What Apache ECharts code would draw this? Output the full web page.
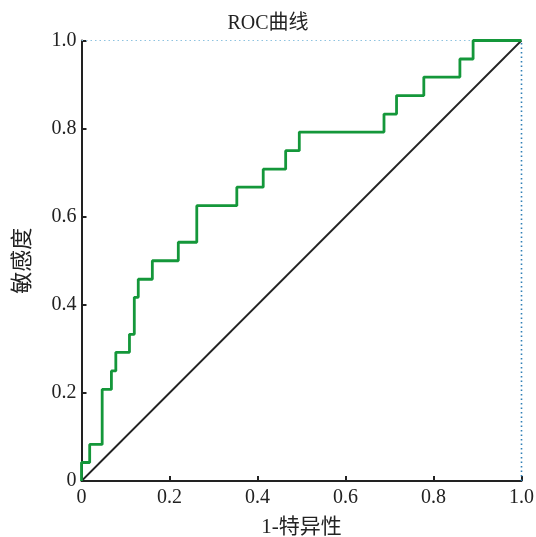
<!DOCTYPE html>
<html><head><meta charset="utf-8">
<script src="https://cdn.jsdelivr.net/npm/echarts@6/dist/echarts.min.js"></script>
<style>html,body{margin:0;padding:0;background:#fff}#c{width:536px;height:537px}</style>
</head><body><div id="c"></div>
<script>
// ROC step curve corner points (1 - specificity, sensitivity)
const fpr = [0, 0, 0.0186, 0.047, 0.068, 0.078, 0.109, 0.12, 0.129, 0.161, 0.22, 0.262, 0.353, 0.413, 0.464, 0.495, 0.6875, 0.716, 0.778, 0.86, 0.89, 1];
const tpr = [0, 0.042, 0.083, 0.208, 0.25, 0.292, 0.333, 0.417, 0.458, 0.5, 0.542, 0.625, 0.667, 0.708, 0.75, 0.792, 0.833, 0.875, 0.917, 0.958, 1, 1];
const diagX = [0, 1];
const diagY = [0, 1];
const tickValues = [0, 0.2, 0.4, 0.6, 0.8, 1.0];
const titleText = 'ROC曲线';
const xName = '1-特异性';
const yName = '敏感度';

const serif = '"Liberation Serif","DejaVu Serif","Noto Sans CJK SC",serif';
const fmt = v => v === 0 ? '0' : v.toFixed(1);
const chart = echarts.init(document.getElementById('c'));
chart.setOption({
  animation: false,
  backgroundColor: '#fff',
  title: { text: titleText, left: 'center', top: 9, textStyle: { fontFamily: serif, fontWeight: 'normal', fontSize: 20, color: '#222' } },
  grid: { left: 81.5, right: 14.5, top: 40.5, bottom: 56, containLabel: false, outerBoundsMode: 'none' },
  xAxis: {
    type: 'value', min: 0, max: 1, interval: 0.2,
    name: xName, nameLocation: 'middle', nameGap: 36,
    nameTextStyle: { fontFamily: serif, fontSize: 21, color: '#222' },
    axisLine: { onZero: false, lineStyle: { color: '#222', width: 2 } },
    axisTick: { inside: true, length: 5, lineStyle: { color: '#222', width: 2 } },
    axisLabel: { formatter: fmt, fontFamily: serif, fontSize: 20, color: '#222', margin: 7 },
    splitLine: { show: false }
  },
  yAxis: {
    type: 'value', min: 0, max: 1, interval: 0.2,
    name: yName, nameLocation: 'middle', nameGap: 47, nameRotate: 90,
    nameTextStyle: { fontFamily: serif, fontSize: 22, color: '#222' },
    axisLine: { onZero: false, lineStyle: { color: '#222', width: 2 } },
    axisTick: { inside: true, length: 5, lineStyle: { color: '#222', width: 2 } },
    axisLabel: { formatter: fmt, fontFamily: serif, fontSize: 20, color: '#222', margin: 5 },
    splitLine: { show: false }
  },
  series: [
    { type: 'line', data: [[0, 1], [1, 1]], symbol: 'none', silent: true,
      lineStyle: { color: '#8ec3e0', width: 1.2, type: [1.5, 3] } },
    { type: 'line', data: [[1, 0], [1, 1]], symbol: 'none', silent: true,
      lineStyle: { color: '#2f7fb5', width: 1.6, type: [1.5, 3] } },
    { type: 'line', data: diagX.map((x, i) => [x, diagY[i]]), symbol: 'none', silent: true,
      lineStyle: { color: '#222', width: 1.8 } },
    { type: 'line', step: 'end', data: fpr.map((x, i) => [x, tpr[i]]), symbol: 'none', silent: true,
      lineStyle: { color: '#14973a', width: 2.8 } }
  ]
});
</script></body></html>
